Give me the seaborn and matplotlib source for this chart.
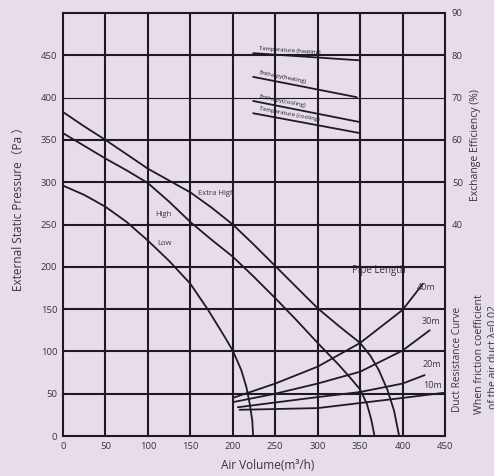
import matplotlib
matplotlib.use("Agg")
import matplotlib.pyplot as plt
import seaborn as sns
import numpy as np

# --- fan curves (air volume m3/h, static pressure Pa) ---
xh_q = [0, 25, 50, 75, 100, 125, 150, 175, 200, 225, 250, 275, 300, 325, 350, 362, 372, 382, 390, 396]
xh_p = [383, 366, 350, 333, 316, 302, 288, 270, 250, 226, 201, 176, 151, 130, 110, 95, 78, 55, 30, 0]
hi_q = [0, 25, 50, 75, 100, 125, 150, 175, 200, 225, 250, 275, 300, 325, 340, 350, 358, 363, 367]
hi_p = [358, 343, 328, 314, 299, 277, 253, 232, 212, 188, 163, 137, 110, 84, 67, 55, 38, 20, 0]
lo_q = [0, 25, 50, 75, 100, 125, 150, 171, 190, 200, 210, 216, 220, 223, 224]
lo_p = [296, 285, 271, 253, 231, 207, 180, 149, 118, 101, 78, 58, 38, 18, 0]

# --- duct resistance curves ---
d40_q = [200, 250, 300, 350, 400, 424]
d40_p = [45, 62, 82, 110, 149, 180]
d30_q = [200, 250, 300, 350, 400, 432]
d30_p = [40, 50, 62, 76, 101, 125]
d20_q = [206, 300, 350, 400, 426]
d20_p = [34, 46, 52, 62, 72]
d10_q = [208, 300, 350, 400, 448]
d10_p = [31, 33, 39, 45, 51]
duct_labels = ["40m", "30m", "20m", "10m"]

# --- exchange efficiency lines (%) ---
eff_names = ["Temperature (heating)", "Enthalpy(heating)",
             "Enthalpy(cooling)", "Temperature (cooling)"]
eff_q = [[224, 350], [224, 346], [224, 350], [224, 350]]
eff_v = [[80.5, 78.8], [74.9, 70.1], [69.2, 64.2], [66.3, 61.6]]

x_ticks = [0, 50, 100, 150, 200, 250, 300, 350, 400, 450]
y_ticks = [0, 50, 100, 150, 200, 250, 300, 350, 400, 450]
eff_ticks = [40, 50, 60, 70, 80, 90]

bg = "#e6dcea"
ink = "#1f1a22"
txt = "#3a3440"

sns.set_theme(style="white")
plt.rcParams['font.family'] = ['Open Sans', 'Noto Sans CJK SC', 'DejaVu Sans']

fig = plt.figure(figsize=(4.94, 4.76), dpi=100)
fig.patch.set_facecolor(bg)
ax = fig.add_axes([0.1275, 0.084, 0.7733, 0.8887])
ax.set_facecolor(bg)

ax.set_xlim(0, 450)
ax.set_ylim(0, 500)
ax.set_xticks(x_ticks)
ax.set_yticks(y_ticks)
ax.tick_params(length=0, labelsize=6.8, colors=txt, pad=4)

# grid
for v in x_ticks[1:-1]:
    ax.axvline(v, color=ink, lw=1.5, zorder=1)
for v in y_ticks[1:]:
    ax.axhline(v, color=ink, lw=0.8 if v == 400 else 1.5, zorder=1)
for s in ax.spines.values():
    s.set_color(ink)
    s.set_linewidth(1.5)

lw = 1.3
for q, p in [(xh_q, xh_p), (hi_q, hi_p), (lo_q, lo_p)]:
    sns.lineplot(x=q, y=p, ax=ax, color=ink, lw=lw, sort=False, estimator=None, zorder=3)
for q, p in [(d40_q, d40_p), (d30_q, d30_p), (d20_q, d20_p), (d10_q, d10_p)]:
    sns.lineplot(x=q, y=p, ax=ax, color=ink, lw=lw, sort=False, estimator=None, zorder=3)

ax.text(181, 287, "Extra High", fontsize=5.5, color=txt, ha="center", va="center")
ax.text(118, 262, "High", fontsize=5.5, color=txt, ha="center", va="center")
ax.text(120, 228, "Low", fontsize=5.5, color=txt, ha="center", va="center")
ax.text(372, 196, "Pipe Length", fontsize=7, color=txt, ha="center", va="center", zorder=0.5)
for lab, (lx, ly) in zip(duct_labels, [(428, 176), (434, 135), (434, 84), (435, 60)]):
    ax.text(lx, ly, lab, fontsize=6.5, color=txt, ha="center", va="center")

# efficiency axis
ax2 = ax.twinx()
ax2.set_ylim(-10, 90)
ax2.set_yticks(eff_ticks)
ax2.tick_params(length=0, labelsize=6.8, colors=txt, pad=5)
ax2.grid(False)
for s in ax2.spines.values():
    s.set_visible(False)
for name, q, v in zip(eff_names, eff_q, eff_v):
    sns.lineplot(x=q, y=v, ax=ax2, color=ink, lw=lw, sort=False, estimator=None)
    p0 = ax2.transData.transform((q[0], v[0]))
    p1 = ax2.transData.transform((q[1], v[1]))
    ang = np.degrees(np.arctan2(p1[1] - p0[1], p1[0] - p0[0]))
    ax2.annotate(name, (q[0], v[0]), xytext=(4, 1.5), textcoords="offset points",
                 fontsize=4.2, color=ink, rotation=ang, rotation_mode="anchor",
                 ha="left", va="bottom")

ax.set_xlabel("Air Volume(m³/h)", fontsize=8.5, color=txt)
ax.xaxis.set_label_coords(0.537, -0.054)
ax.set_ylabel("External Static Pressure（Pa ）", fontsize=8.5, color=txt)
ax.yaxis.set_label_coords(-0.1, 0.544)
ax2.set_ylabel("")
fig.text(0.962, 0.695, "Exchange Efficiency (%)", rotation=90, fontsize=7.5,
         color=txt, ha="center", va="center")
fig.text(0.927, 0.244, "Duct Resistance Curve", rotation=90, fontsize=7.3,
         color=txt, ha="center", va="center")
fig.text(0.970, 0.256, "When friction coefficient", rotation=90, fontsize=7.6,
         color=txt, ha="center", va="center")
fig.text(0.998, 0.25, "of the air duct λ=0.02", rotation=90, fontsize=7.6,
         color=txt, ha="center", va="center")

fig.savefig("out.png", dpi=100, facecolor=bg)
